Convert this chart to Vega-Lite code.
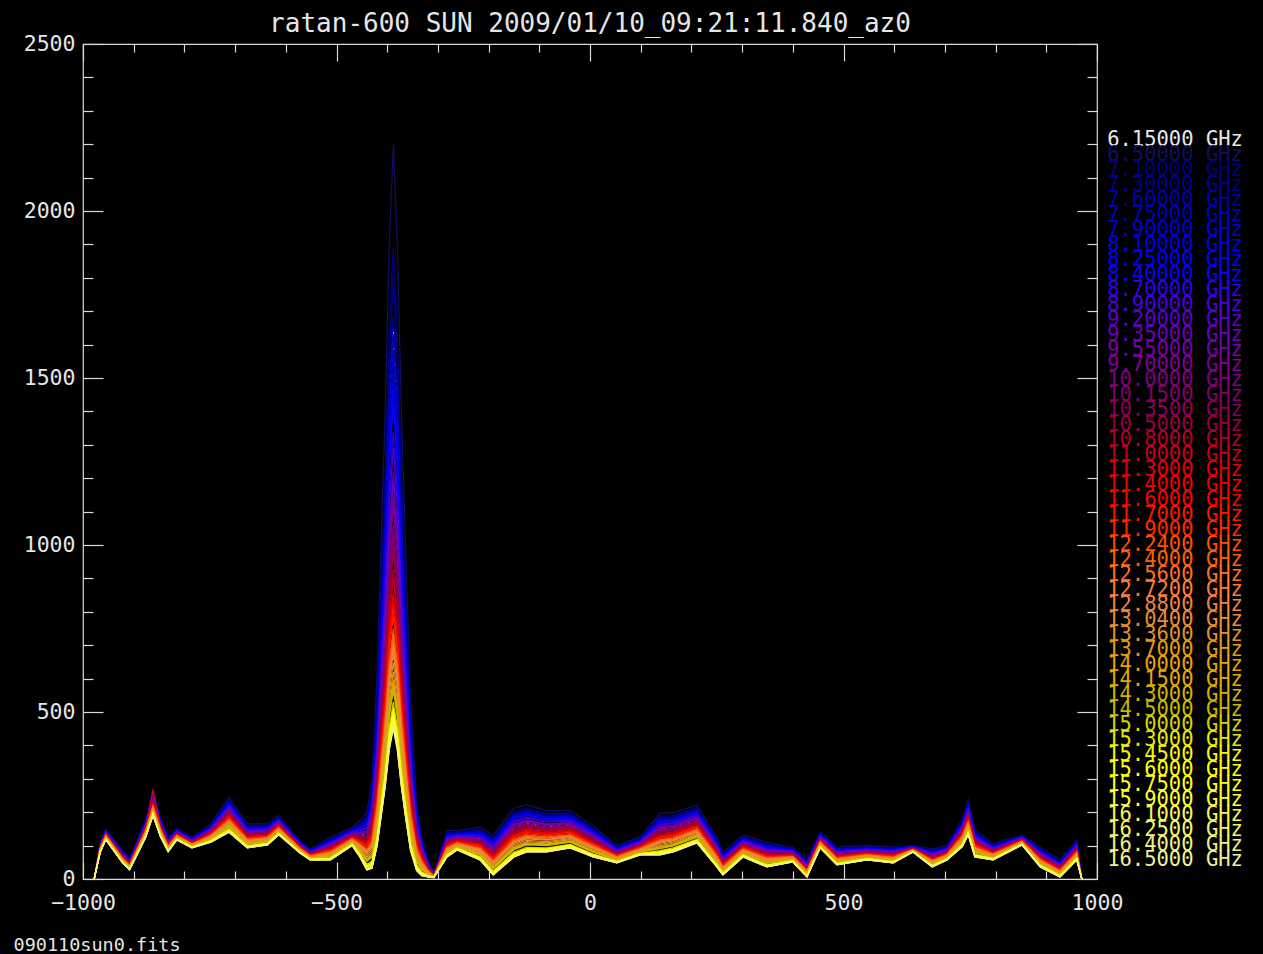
{
  "$schema": "https://vega.github.io/schema/vega-lite/v6.json",
  "width": 1014,
  "height": 835,
  "autosize": {"type": "none"},
  "padding": {"left": 83, "top": 44, "right": 166, "bottom": 75},
  "background": "#000000",
  "title": {
    "text": "ratan-600 SUN 2009/01/10_09:21:11.840_az0",
    "frame": "group",
    "anchor": "middle",
    "baseline": "alphabetic",
    "offset": -25,
    "font": "DejaVu Sans Mono",
    "fontSize": 26,
    "fontWeight": "normal",
    "color": "#e6e6e6"
  },
  "datasets": {
    "bands": [
      {"key": "a", "band": "6.15000 GHz"}, {"key": "b", "band": "6.50000 GHz"}, {"key": "c", "band": "7.10000 GHz"},
      {"key": "d", "band": "7.30000 GHz"}, {"key": "e", "band": "7.60000 GHz"}, {"key": "f", "band": "7.75000 GHz"},
      {"key": "g", "band": "7.90000 GHz"}, {"key": "h", "band": "8.10000 GHz"}, {"key": "i", "band": "8.25000 GHz"},
      {"key": "j", "band": "8.40000 GHz"}, {"key": "k", "band": "8.70000 GHz"}, {"key": "l", "band": "8.90000 GHz"},
      {"key": "m", "band": "9.20000 GHz"}, {"key": "n", "band": "9.35000 GHz"}, {"key": "o", "band": "9.55000 GHz"},
      {"key": "p", "band": "9.70000 GHz"}, {"key": "q", "band": "10.0000 GHz"}, {"key": "r", "band": "10.1500 GHz"},
      {"key": "s", "band": "10.3500 GHz"}, {"key": "t", "band": "10.5000 GHz"}, {"key": "u", "band": "10.8000 GHz"},
      {"key": "v", "band": "11.0000 GHz"}, {"key": "w", "band": "11.3000 GHz"}, {"key": "x", "band": "11.4000 GHz"},
      {"key": "y", "band": "11.6000 GHz"}, {"key": "z", "band": "11.7000 GHz"}, {"key": "A", "band": "11.9000 GHz"},
      {"key": "B", "band": "12.2400 GHz"}, {"key": "C", "band": "12.4000 GHz"}, {"key": "D", "band": "12.5600 GHz"},
      {"key": "E", "band": "12.7200 GHz"}, {"key": "F", "band": "12.8800 GHz"}, {"key": "G", "band": "13.0400 GHz"},
      {"key": "H", "band": "13.3600 GHz"}, {"key": "I", "band": "13.7000 GHz"}, {"key": "J", "band": "14.0000 GHz"},
      {"key": "K", "band": "14.1500 GHz"}, {"key": "L", "band": "14.3000 GHz"}, {"key": "M", "band": "14.5000 GHz"},
      {"key": "N", "band": "15.0000 GHz"}, {"key": "O", "band": "15.3000 GHz"}, {"key": "P", "band": "15.4500 GHz"},
      {"key": "Q", "band": "15.6000 GHz"}, {"key": "R", "band": "15.7500 GHz"}, {"key": "S", "band": "15.9000 GHz"},
      {"key": "T", "band": "16.1000 GHz"}, {"key": "U", "band": "16.2500 GHz"}, {"key": "V", "band": "16.4000 GHz"},
      {"key": "W", "band": "16.5000 GHz"}
    ],
    "scans": [
      {"pos":-978,"a":0,"b":0,"c":0,"d":0,"e":0,"f":0,"g":0,"h":0,"i":0,"j":0,"k":0,"l":0,"m":0,"n":0,"o":0,"p":0,"q":0,"r":0,"s":0,"t":0,"u":0,"v":0,"w":0,"x":0,"y":0,"z":0,"A":0,"B":0,"C":0,"D":0,"E":0,"F":0,"G":0,"H":0,"I":0,"J":0,"K":0,"L":0,"M":0,"N":0,"O":0,"P":0,"Q":0,"R":0,"S":0,"T":0,"U":0,"V":0,"W":0},
      {"pos":-966,"a":98,"b":110,"c":108,"d":107,"e":106,"f":106,"g":105,"h":104,"i":104,"j":103,"k":102,"l":102,"m":100,"n":100,"o":100,"p":99,"q":98,"r":97,"s":97,"t":96,"u":95,"v":95,"w":94,"x":94,"y":93,"z":93,"A":92,"B":91,"C":90,"D":90,"E":89,"F":89,"G":88,"H":88,"I":87,"J":86,"K":85,"L":85,"M":85,"N":83,"O":82,"P":82,"Q":82,"R":82,"S":81,"T":81,"U":80,"V":80,"W":80},
      {"pos":-955,"a":137,"b":150,"c":148,"d":147,"e":146,"f":145,"g":145,"h":144,"i":143,"j":143,"k":142,"l":141,"m":140,"n":139,"o":139,"p":138,"q":137,"r":137,"s":136,"t":135,"u":134,"v":134,"w":133,"x":132,"y":132,"z":131,"A":130,"B":130,"C":129,"D":129,"E":128,"F":128,"G":127,"H":126,"I":125,"J":124,"K":124,"L":123,"M":123,"N":121,"O":121,"P":120,"Q":120,"R":120,"S":119,"T":119,"U":118,"V":118,"W":118},
      {"pos":-922,"a":70,"b":85,"c":82,"d":81,"e":80,"f":79,"g":79,"h":78,"i":77,"j":77,"k":75,"l":75,"m":73,"n":73,"o":72,"p":71,"q":70,"r":69,"s":69,"t":68,"u":67,"v":66,"w":65,"x":65,"y":64,"z":64,"A":62,"B":61,"C":61,"D":60,"E":59,"F":59,"G":58,"H":57,"I":56,"J":55,"K":55,"L":54,"M":54,"N":52,"O":51,"P":51,"Q":50,"R":50,"S":49,"T":49,"U":48,"V":48,"W":48},
      {"pos":-908,"a":48,"b":62,"c":60,"d":59,"e":58,"f":57,"g":56,"h":56,"i":55,"j":55,"k":53,"l":52,"m":51,"n":51,"o":50,"p":49,"q":48,"r":48,"s":47,"t":46,"u":45,"v":45,"w":44,"x":43,"y":43,"z":42,"A":41,"B":40,"C":40,"D":39,"E":39,"F":38,"G":38,"H":37,"I":35,"J":34,"K":34,"L":33,"M":33,"N":31,"O":31,"P":30,"Q":30,"R":30,"S":29,"T":29,"U":28,"V":28,"W":28},
      {"pos":-876,"a":158,"b":180,"c":176,"d":175,"e":173,"f":172,"g":171,"h":170,"i":169,"j":168,"k":166,"l":165,"m":163,"n":162,"o":161,"p":160,"q":158,"r":157,"s":156,"t":155,"u":154,"v":152,"w":151,"x":150,"y":149,"z":149,"A":147,"B":145,"C":144,"D":144,"E":143,"F":142,"G":141,"H":140,"I":138,"J":136,"K":136,"L":135,"M":134,"N":131,"O":130,"P":130,"Q":129,"R":129,"S":128,"T":127,"U":127,"V":126,"W":126},
      {"pos":-862,"a":235,"b":265,"c":260,"d":258,"e":255,"f":254,"g":252,"h":251,"i":249,"j":249,"k":246,"l":244,"m":241,"n":240,"o":239,"p":237,"q":235,"r":234,"s":232,"t":231,"u":228,"v":227,"w":268,"x":224,"y":222,"z":222,"A":219,"B":217,"C":216,"D":215,"E":213,"F":213,"G":211,"H":209,"I":207,"J":204,"K":204,"L":202,"M":201,"N":198,"O":196,"P":195,"Q":195,"R":194,"S":192,"T":192,"U":191,"V":190,"W":190},
      {"pos":-847,"a":161,"b":185,"c":181,"d":179,"e":177,"f":176,"g":175,"h":174,"i":173,"j":172,"k":170,"l":168,"m":166,"n":166,"o":164,"p":163,"q":161,"r":160,"s":159,"t":158,"u":156,"v":155,"w":153,"x":153,"y":151,"z":151,"A":149,"B":147,"C":146,"D":145,"E":144,"F":144,"G":143,"H":141,"I":139,"J":137,"K":137,"L":135,"M":135,"N":132,"O":131,"P":130,"Q":130,"R":129,"S":128,"T":127,"U":127,"V":126,"W":126},
      {"pos":-832,"a":108,"b":125,"c":122,"d":121,"e":119,"f":119,"g":118,"h":117,"i":116,"j":116,"k":114,"l":113,"m":111,"n":111,"o":110,"p":109,"q":108,"r":107,"s":106,"t":105,"u":104,"v":103,"w":102,"x":101,"y":100,"z":100,"A":99,"B":97,"C":97,"D":96,"E":95,"F":95,"G":94,"H":93,"I":91,"J":90,"K":90,"L":89,"M":88,"N":86,"O":85,"P":85,"Q":85,"R":84,"S":83,"T":83,"U":82,"V":82,"W":82},
      {"pos":-815,"a":138,"b":152,"c":150,"d":149,"e":147,"f":147,"g":146,"h":145,"i":145,"j":144,"k":143,"l":142,"m":141,"n":140,"o":140,"p":139,"q":138,"r":137,"s":137,"t":136,"u":135,"v":134,"w":133,"x":133,"y":132,"z":132,"A":131,"B":130,"C":129,"D":129,"E":128,"F":128,"G":127,"H":126,"I":125,"J":124,"K":123,"L":123,"M":122,"N":121,"O":120,"P":119,"Q":119,"R":119,"S":118,"T":118,"U":117,"V":117,"W":117},
      {"pos":-785,"a":112,"b":125,"c":123,"d":122,"e":121,"f":120,"g":120,"h":119,"i":118,"j":118,"k":117,"l":116,"m":115,"n":114,"o":114,"p":113,"q":112,"r":112,"s":111,"t":110,"u":109,"v":109,"w":108,"x":107,"y":107,"z":106,"A":105,"B":105,"C":104,"D":104,"E":103,"F":103,"G":102,"H":101,"I":100,"J":99,"K":99,"L":98,"M":98,"N":96,"O":96,"P":95,"Q":95,"R":95,"S":94,"T":94,"U":93,"V":93,"W":93},
      {"pos":-748,"a":143,"b":165,"c":161,"d":160,"e":158,"f":157,"g":156,"h":155,"i":153,"j":153,"k":151,"l":150,"m":147,"n":147,"o":146,"p":145,"q":143,"r":142,"s":141,"t":140,"u":138,"v":137,"w":135,"x":135,"y":134,"z":133,"A":131,"B":130,"C":129,"D":128,"E":127,"F":127,"G":125,"H":124,"I":122,"J":120,"K":120,"L":119,"M":118,"N":116,"O":114,"P":114,"Q":113,"R":113,"S":112,"T":111,"U":111,"V":110,"W":110},
      {"pos":-712,"a":203,"b":245,"c":238,"d":235,"e":231,"f":229,"g":227,"h":225,"i":223,"j":222,"k":218,"l":216,"m":211,"n":210,"o":208,"p":206,"q":203,"r":201,"s":199,"t":197,"u":194,"v":191,"w":188,"x":187,"y":185,"z":184,"A":181,"B":178,"C":176,"D":175,"E":173,"F":172,"G":169,"H":166,"I":163,"J":160,"K":159,"L":157,"M":156,"N":151,"O":148,"P":147,"Q":146,"R":145,"S":143,"T":142,"U":141,"V":140,"W":140},
      {"pos":-676,"a":136,"b":165,"c":160,"d":158,"e":156,"f":154,"g":153,"h":151,"i":150,"j":149,"k":146,"l":145,"m":142,"n":141,"o":140,"p":138,"q":136,"r":135,"s":133,"t":132,"u":130,"v":128,"w":126,"x":125,"y":124,"z":123,"A":121,"B":119,"C":117,"D":117,"E":115,"F":115,"G":113,"H":111,"I":109,"J":107,"K":106,"L":105,"M":104,"N":100,"O":99,"P":98,"Q":97,"R":97,"S":95,"T":94,"U":94,"V":93,"W":93},
      {"pos":-636,"a":140,"b":165,"c":161,"d":159,"e":157,"f":156,"g":154,"h":153,"i":152,"j":151,"k":149,"l":147,"m":145,"n":144,"o":143,"p":142,"q":140,"r":139,"s":137,"t":136,"u":134,"v":133,"w":131,"x":130,"y":129,"z":128,"A":127,"B":125,"C":123,"D":123,"E":122,"F":121,"G":120,"H":118,"I":116,"J":114,"K":113,"L":112,"M":111,"N":108,"O":107,"P":106,"Q":106,"R":105,"S":104,"T":103,"U":103,"V":102,"W":102},
      {"pos":-614,"a":167,"b":190,"c":186,"d":184,"e":182,"f":181,"g":180,"h":179,"i":178,"j":177,"k":175,"l":174,"m":171,"n":171,"o":170,"p":169,"q":167,"r":166,"s":164,"t":163,"u":162,"v":160,"w":159,"x":158,"y":157,"z":156,"A":155,"B":153,"C":152,"D":151,"E":150,"F":149,"G":148,"H":147,"I":145,"J":143,"K":142,"L":141,"M":141,"N":138,"O":137,"P":136,"Q":135,"R":135,"S":134,"T":133,"U":133,"V":132,"W":132},
      {"pos":-572,"a":100,"b":115,"c":112,"d":111,"e":110,"f":109,"g":109,"h":108,"i":107,"j":107,"k":105,"l":105,"m":103,"n":103,"o":102,"p":101,"q":100,"r":99,"s":99,"t":98,"u":97,"v":96,"w":95,"x":95,"y":94,"z":94,"A":92,"B":91,"C":91,"D":90,"E":89,"F":89,"G":88,"H":87,"I":86,"J":85,"K":85,"L":84,"M":84,"N":82,"O":81,"P":81,"Q":80,"R":80,"S":79,"T":79,"U":78,"V":78,"W":78},
      {"pos":-552,"a":77,"b":90,"c":88,"d":87,"e":86,"f":85,"g":84,"h":84,"i":83,"j":83,"k":81,"l":81,"m":79,"n":79,"o":78,"p":78,"q":77,"r":76,"s":75,"t":75,"u":74,"v":73,"w":72,"x":72,"y":71,"z":71,"A":70,"B":69,"C":68,"D":68,"E":67,"F":67,"G":66,"H":65,"I":64,"J":63,"K":63,"L":62,"M":62,"N":60,"O":60,"P":59,"Q":59,"R":59,"S":58,"T":58,"U":57,"V":57,"W":57},
      {"pos":-512,"a":98,"b":125,"c":120,"d":118,"e":116,"f":115,"g":113,"h":112,"i":111,"j":110,"k":107,"l":106,"m":103,"n":103,"o":101,"p":100,"q":98,"r":96,"s":95,"t":94,"u":92,"v":90,"w":88,"x":88,"y":86,"z":86,"A":84,"B":81,"C":80,"D":79,"E":78,"F":77,"G":76,"H":74,"I":72,"J":70,"K":69,"L":68,"M":67,"N":64,"O":62,"P":62,"Q":61,"R":60,"S":59,"T":58,"U":58,"V":57,"W":57},
      {"pos":-469,"a":133,"b":155,"c":151,"d":150,"e":148,"f":147,"g":146,"h":145,"i":143,"j":143,"k":141,"l":140,"m":137,"n":137,"o":136,"p":135,"q":133,"r":132,"s":131,"t":130,"u":128,"v":127,"w":125,"x":125,"y":124,"z":123,"A":121,"B":120,"C":119,"D":118,"E":117,"F":117,"G":115,"H":114,"I":112,"J":110,"K":110,"L":109,"M":108,"N":106,"O":104,"P":104,"Q":103,"R":103,"S":102,"T":101,"U":101,"V":100,"W":100},
      {"pos":-454,"a":131,"b":175,"c":167,"d":164,"e":161,"f":159,"g":156,"h":154,"i":152,"j":151,"k":147,"l":144,"m":140,"n":139,"o":137,"p":135,"q":131,"r":129,"s":127,"t":125,"u":122,"v":119,"w":116,"x":115,"y":113,"z":112,"A":109,"B":105,"C":103,"D":102,"E":100,"F":99,"G":97,"H":93,"I":90,"J":87,"K":86,"L":83,"M":82,"N":77,"O":75,"P":74,"Q":73,"R":71,"S":69,"T":68,"U":67,"V":66,"W":66},
      {"pos":-440,"a":131,"b":200,"c":188,"d":183,"e":178,"f":174,"g":171,"h":167,"i":164,"j":162,"k":155,"l":152,"m":145,"n":143,"o":139,"p":136,"q":131,"r":127,"s":124,"t":120,"u":115,"v":112,"w":107,"x":105,"y":101,"z":100,"A":94,"B":89,"C":86,"D":84,"E":81,"F":79,"G":75,"H":70,"I":65,"J":60,"K":58,"L":55,"M":53,"N":44,"O":41,"P":39,"Q":37,"R":36,"S":32,"T":30,"U":29,"V":27,"W":27},
      {"pos":-430,"a":196,"b":296,"c":270,"d":261,"e":250,"f":244,"g":238,"h":232,"i":226,"j":222,"k":211,"l":205,"m":195,"n":191,"o":186,"p":181,"q":173,"r":168,"s":163,"t":158,"u":150,"v":144,"w":137,"x":134,"y":130,"z":127,"A":120,"B":113,"C":109,"D":106,"E":102,"F":99,"G":95,"H":88,"I":81,"J":74,"K":72,"L":68,"M":65,"N":54,"O":50,"P":47,"Q":45,"R":43,"S":39,"T":36,"U":34,"V":32,"W":32},
      {"pos":-420,"a":436,"b":614,"c":541,"d":518,"e":490,"f":475,"g":461,"h":445,"i":432,"j":422,"k":399,"l":386,"m":365,"n":356,"o":345,"p":335,"q":319,"r":310,"s":300,"t":292,"u":278,"v":269,"w":256,"x":252,"y":244,"z":240,"A":230,"B":218,"C":211,"D":206,"E":200,"F":196,"G":189,"H":179,"I":169,"J":159,"K":155,"L":150,"M":145,"N":131,"O":124,"P":121,"Q":117,"R":114,"S":109,"T":105,"U":102,"V":99,"W":98},
      {"pos":-412,"a":736,"b":1008,"c":877,"d":838,"e":787,"f":763,"g":739,"h":710,"i":689,"j":670,"k":633,"l":610,"m":576,"n":562,"o":544,"p":529,"q":503,"r":489,"s":473,"t":462,"u":439,"v":426,"w":405,"x":400,"y":388,"z":382,"A":368,"B":350,"C":341,"D":334,"E":325,"F":318,"G":309,"H":296,"I":281,"J":268,"K":262,"L":255,"M":250,"N":230,"O":221,"P":217,"Q":212,"R":208,"S":202,"T":197,"U":192,"V":188,"W":186},
      {"pos":-404,"a":1036,"b":1402,"c":1213,"d":1157,"e":1084,"f":1049,"g":1015,"h":975,"i":945,"j":919,"k":865,"l":835,"m":788,"n":768,"o":741,"p":721,"q":686,"r":667,"s":646,"t":630,"u":601,"v":582,"w":556,"x":548,"y":531,"z":523,"A":506,"B":482,"C":471,"D":460,"E":450,"F":441,"G":430,"H":411,"I":394,"J":377,"K":370,"L":362,"M":353,"N":330,"O":318,"P":313,"Q":307,"R":302,"S":294,"T":288,"U":283,"V":277,"W":275},
      {"pos":-396,"a":1414,"b":1899,"c":1637,"d":1561,"e":1460,"f":1411,"g":1366,"h":1309,"i":1270,"j":1233,"k":1160,"l":1118,"m":1056,"n":1028,"o":992,"p":965,"q":918,"r":894,"s":864,"t":844,"u":804,"v":780,"w":744,"x":734,"y":713,"z":702,"A":681,"B":649,"C":634,"D":621,"E":607,"F":596,"G":582,"H":558,"I":535,"J":515,"K":505,"L":495,"M":484,"N":455,"O":441,"P":433,"Q":425,"R":419,"S":410,"T":401,"U":395,"V":388,"W":385},
      {"pos":-388,"a":1642,"b":2200,"c":1894,"d":1805,"e":1687,"f":1632,"g":1578,"h":1513,"i":1466,"j":1424,"k":1340,"l":1290,"m":1219,"n":1186,"o":1145,"p":1114,"q":1059,"r":1031,"s":997,"t":974,"u":928,"v":900,"w":859,"x":848,"y":823,"z":810,"A":786,"B":750,"C":734,"D":718,"E":703,"F":689,"G":674,"H":647,"I":620,"J":597,"K":587,"L":575,"M":563,"N":530,"O":514,"P":506,"Q":497,"R":490,"S":480,"T":470,"U":463,"V":455,"W":451},
      {"pos":-380,"a":1414,"b":1899,"c":1637,"d":1561,"e":1460,"f":1411,"g":1366,"h":1309,"i":1270,"j":1233,"k":1160,"l":1118,"m":1056,"n":1028,"o":992,"p":965,"q":918,"r":894,"s":864,"t":844,"u":804,"v":780,"w":744,"x":734,"y":713,"z":702,"A":681,"B":649,"C":634,"D":621,"E":607,"F":596,"G":582,"H":558,"I":535,"J":515,"K":505,"L":495,"M":484,"N":455,"O":441,"P":433,"Q":425,"R":419,"S":410,"T":401,"U":395,"V":388,"W":385},
      {"pos":-372,"a":1035,"b":1400,"c":1212,"d":1155,"e":1082,"f":1047,"g":1014,"h":973,"i":944,"j":918,"k":864,"l":833,"m":787,"n":766,"o":740,"p":720,"q":685,"r":666,"s":645,"t":629,"u":600,"v":581,"w":555,"x":547,"y":531,"z":522,"A":505,"B":481,"C":471,"D":460,"E":449,"F":440,"G":430,"H":411,"I":393,"J":377,"K":370,"L":361,"M":353,"N":330,"O":318,"P":312,"Q":307,"R":302,"S":294,"T":288,"U":283,"V":277,"W":275},
      {"pos":-364,"a":733,"b":1003,"c":872,"d":834,"e":783,"f":758,"g":735,"h":706,"i":685,"j":666,"k":629,"l":606,"m":573,"n":559,"o":540,"p":526,"q":500,"r":486,"s":471,"t":459,"u":436,"v":424,"w":403,"x":397,"y":386,"z":380,"A":366,"B":349,"C":339,"D":332,"E":323,"F":317,"G":308,"H":294,"I":280,"J":267,"K":261,"L":255,"M":249,"N":230,"O":221,"P":217,"Q":212,"R":207,"S":202,"T":197,"U":192,"V":188,"W":186},
      {"pos":-354,"a":384,"b":543,"c":480,"d":460,"e":435,"f":423,"g":411,"h":396,"i":385,"j":376,"k":356,"l":344,"m":325,"n":318,"o":308,"p":299,"q":285,"r":277,"s":268,"t":261,"u":248,"v":240,"w":228,"x":225,"y":218,"z":214,"A":205,"B":193,"C":188,"D":184,"E":178,"F":174,"G":168,"H":159,"I":149,"J":140,"K":137,"L":131,"M":129,"N":115,"O":108,"P":105,"Q":102,"R":100,"S":95,"T":92,"U":89,"V":86,"W":85},
      {"pos":-342,"a":153,"b":231,"c":211,"d":203,"e":195,"f":190,"g":186,"h":181,"i":177,"j":173,"k":165,"l":161,"m":152,"n":150,"o":146,"p":142,"q":135,"r":132,"s":127,"t":123,"u":118,"v":113,"w":108,"x":106,"y":102,"z":100,"A":95,"B":89,"C":86,"D":84,"E":80,"F":78,"G":74,"H":70,"I":64,"J":59,"K":56,"L":53,"M":52,"N":43,"O":40,"P":38,"Q":35,"R":34,"S":31,"T":29,"U":28,"V":25,"W":25},
      {"pos":-332,"a":82,"b":130,"c":122,"d":118,"e":114,"f":112,"g":110,"h":107,"i":105,"j":104,"k":99,"l":96,"m":92,"n":90,"o":88,"p":86,"q":82,"r":80,"s":77,"t":75,"u":71,"v":69,"w":65,"x":64,"y":62,"z":60,"A":57,"B":53,"C":51,"D":50,"E":47,"F":46,"G":44,"H":40,"I":36,"J":33,"K":32,"L":29,"M":28,"N":22,"O":20,"P":18,"Q":17,"R":16,"S":14,"T":12,"U":11,"V":10,"W":10},
      {"pos":-320,"a":38,"b":60,"c":56,"d":55,"e":53,"f":52,"g":51,"h":50,"i":49,"j":48,"k":46,"l":45,"m":43,"n":42,"o":41,"p":40,"q":38,"r":37,"s":36,"t":35,"u":34,"v":32,"w":31,"x":30,"y":29,"z":29,"A":27,"B":25,"C":24,"D":24,"E":23,"F":22,"G":21,"H":20,"I":18,"J":16,"K":16,"L":15,"M":14,"N":11,"O":10,"P":10,"Q":9,"R":9,"S":8,"T":7,"U":7,"V":6,"W":6},
      {"pos":-308,"a":10,"b":14,"c":13,"d":13,"e":13,"f":13,"g":12,"h":12,"i":12,"j":12,"k":11,"l":11,"m":11,"n":11,"o":11,"p":10,"q":10,"r":10,"s":10,"t":9,"u":9,"v":9,"w":9,"x":9,"y":8,"z":8,"A":8,"B":8,"C":7,"D":7,"E":7,"F":7,"G":7,"H":7,"I":6,"J":6,"K":6,"L":6,"M":6,"N":5,"O":5,"P":5,"Q":5,"R":5,"S":4,"T":4,"U":4,"V":4,"W":4},
      {"pos":-282,"a":113,"b":145,"c":139,"d":137,"e":135,"f":133,"g":132,"h":130,"i":128,"j":128,"k":124,"l":123,"m":120,"n":119,"o":117,"p":116,"q":113,"r":112,"s":110,"t":109,"u":106,"v":105,"w":102,"x":102,"y":100,"z":99,"A":97,"B":94,"C":93,"D":92,"E":90,"F":90,"G":88,"H":86,"I":83,"J":81,"K":80,"L":79,"M":78,"N":74,"O":72,"P":72,"Q":71,"R":70,"S":68,"T":68,"U":67,"V":66,"W":66},
      {"pos":-262,"a":122,"b":145,"c":141,"d":139,"e":137,"f":136,"g":135,"h":134,"i":133,"j":132,"k":130,"l":129,"m":126,"n":126,"o":125,"p":124,"q":122,"r":121,"s":119,"t":118,"u":117,"v":115,"w":114,"x":113,"y":112,"z":111,"A":110,"B":108,"C":107,"D":106,"E":105,"F":104,"G":103,"H":102,"I":100,"J":98,"K":97,"L":96,"M":96,"N":93,"O":92,"P":91,"Q":90,"R":90,"S":89,"T":88,"U":88,"V":87,"W":87},
      {"pos":-217,"a":116,"b":156,"c":149,"d":146,"e":143,"f":141,"g":139,"h":137,"i":135,"j":134,"k":130,"l":128,"m":124,"n":123,"o":121,"p":119,"q":116,"r":114,"s":112,"t":110,"u":107,"v":106,"w":103,"x":102,"y":100,"z":99,"A":96,"B":93,"C":91,"D":90,"E":88,"F":87,"G":85,"H":82,"I":79,"J":76,"K":75,"L":73,"M":72,"N":67,"O":65,"P":64,"Q":63,"R":62,"S":60,"T":59,"U":58,"V":57,"W":57},
      {"pos":-191,"a":84,"b":132,"c":124,"d":120,"e":116,"f":114,"g":112,"h":109,"i":107,"j":106,"k":101,"l":98,"m":94,"n":92,"o":90,"p":88,"q":84,"r":82,"s":79,"t":77,"u":73,"v":71,"w":67,"x":66,"y":64,"z":62,"A":59,"B":55,"C":53,"D":52,"E":49,"F":48,"G":46,"H":42,"I":38,"J":35,"K":34,"L":31,"M":30,"N":24,"O":22,"P":20,"Q":19,"R":18,"S":16,"T":14,"U":13,"V":12,"W":12},
      {"pos":-150,"a":154,"b":212,"c":202,"d":197,"e":193,"f":190,"g":187,"h":184,"i":181,"j":180,"k":174,"l":171,"m":165,"n":164,"o":161,"p":158,"q":154,"r":151,"s":148,"t":145,"u":140,"v":138,"w":133,"x":132,"y":129,"z":127,"A":123,"B":119,"C":116,"D":114,"E":111,"F":110,"G":107,"H":103,"I":98,"J":94,"K":92,"L":89,"M":88,"N":81,"O":78,"P":76,"Q":75,"R":73,"S":70,"T":69,"U":67,"V":66,"W":66},
      {"pos":-125,"a":166,"b":222,"c":212,"d":208,"e":204,"f":201,"g":198,"h":195,"i":192,"j":191,"k":185,"l":183,"m":177,"n":175,"o":173,"p":170,"q":166,"r":163,"s":160,"t":157,"u":153,"v":150,"w":146,"x":144,"y":142,"z":140,"A":136,"B":132,"C":129,"D":128,"E":125,"F":123,"G":120,"H":116,"I":112,"J":108,"K":106,"L":104,"M":102,"N":95,"O":92,"P":91,"Q":89,"R":88,"S":85,"T":84,"U":82,"V":81,"W":81},
      {"pos":-85,"a":155,"b":205,"c":196,"d":193,"e":189,"f":186,"g":184,"h":181,"i":179,"j":178,"k":173,"l":170,"m":165,"n":164,"o":162,"p":159,"q":155,"r":153,"s":150,"t":148,"u":144,"v":142,"w":138,"x":137,"y":134,"z":133,"A":129,"B":126,"C":123,"D":122,"E":119,"F":118,"G":116,"H":112,"I":108,"J":105,"K":103,"L":101,"M":100,"N":93,"O":91,"P":90,"Q":88,"R":87,"S":85,"T":83,"U":82,"V":81,"W":81},
      {"pos":-39,"a":160,"b":205,"c":197,"d":194,"e":190,"f":188,"g":186,"h":184,"i":181,"j":180,"k":176,"l":174,"m":169,"n":168,"o":166,"p":164,"q":160,"r":158,"s":156,"t":153,"u":150,"v":148,"w":145,"x":143,"y":141,"z":140,"A":137,"B":133,"C":131,"D":130,"E":128,"F":127,"G":124,"H":121,"I":118,"J":114,"K":113,"L":111,"M":110,"N":104,"O":102,"P":101,"Q":100,"R":99,"S":96,"T":95,"U":94,"V":93,"W":93},
      {"pos":6,"a":122,"b":160,"c":153,"d":151,"e":148,"f":146,"g":144,"h":142,"i":140,"j":139,"k":136,"l":134,"m":130,"n":129,"o":127,"p":125,"q":122,"r":121,"s":119,"t":117,"u":114,"v":112,"w":109,"x":108,"y":106,"z":105,"A":103,"B":100,"C":98,"D":97,"E":95,"F":94,"G":92,"H":90,"I":87,"J":84,"K":83,"L":81,"M":80,"N":75,"O":74,"P":73,"Q":72,"R":71,"S":69,"T":68,"U":67,"V":66,"W":66},
      {"pos":53,"a":79,"b":100,"c":96,"d":95,"e":93,"f":92,"g":91,"h":90,"i":89,"j":89,"k":86,"l":85,"m":83,"n":83,"o":82,"p":81,"q":79,"r":78,"s":77,"t":76,"u":75,"v":73,"w":72,"x":71,"y":70,"z":70,"A":68,"B":67,"C":66,"D":65,"E":64,"F":64,"G":63,"H":61,"I":59,"J":58,"K":57,"L":56,"M":56,"N":53,"O":52,"P":52,"Q":51,"R":51,"S":50,"T":49,"U":49,"V":48,"W":48},
      {"pos":99,"a":104,"b":126,"c":122,"d":121,"e":119,"f":118,"g":117,"h":116,"i":115,"j":114,"k":112,"l":111,"m":109,"n":108,"o":107,"p":106,"q":104,"r":103,"s":102,"t":101,"u":100,"v":98,"w":97,"x":96,"y":95,"z":95,"A":93,"B":91,"C":90,"D":90,"E":89,"F":88,"G":87,"H":86,"I":84,"J":82,"K":82,"L":81,"M":80,"N":77,"O":76,"P":76,"Q":75,"R":75,"S":74,"T":73,"U":73,"V":72,"W":72},
      {"pos":138,"a":148,"b":198,"c":189,"d":185,"e":182,"f":179,"g":177,"h":174,"i":172,"j":170,"k":165,"l":163,"m":158,"n":156,"o":154,"p":151,"q":148,"r":145,"s":143,"t":140,"u":136,"v":134,"w":130,"x":129,"y":126,"z":125,"A":121,"B":117,"C":115,"D":114,"E":111,"F":110,"G":107,"H":104,"I":100,"J":96,"K":95,"L":92,"M":91,"N":85,"O":82,"P":81,"Q":80,"R":78,"S":76,"T":75,"U":73,"V":72,"W":72},
      {"pos":164,"a":151,"b":198,"c":190,"d":186,"e":183,"f":180,"g":178,"h":176,"i":173,"j":172,"k":168,"l":165,"m":161,"n":159,"o":157,"p":155,"q":151,"r":149,"s":147,"t":144,"u":141,"v":138,"w":135,"x":134,"y":131,"z":130,"A":127,"B":123,"C":121,"D":120,"E":117,"F":116,"G":114,"H":110,"I":107,"J":103,"K":102,"L":100,"M":99,"N":93,"O":90,"P":89,"Q":88,"R":87,"S":85,"T":83,"U":82,"V":81,"W":81},
      {"pos":211,"a":176,"b":222,"c":214,"d":211,"e":207,"f":205,"g":203,"h":200,"i":198,"j":197,"k":192,"l":190,"m":186,"n":184,"o":182,"p":180,"q":176,"r":174,"s":172,"t":170,"u":166,"v":164,"w":160,"x":159,"y":157,"z":156,"A":152,"B":149,"C":147,"D":146,"E":143,"F":142,"G":140,"H":137,"I":133,"J":130,"K":129,"L":126,"M":125,"N":119,"O":117,"P":116,"Q":115,"R":114,"S":111,"T":110,"U":109,"V":108,"W":108},
      {"pos":250,"a":90,"b":126,"c":120,"d":117,"e":114,"f":113,"g":111,"h":109,"i":107,"j":106,"k":103,"l":101,"m":97,"n":96,"o":95,"p":93,"q":90,"r":88,"s":86,"t":85,"u":82,"v":80,"w":77,"x":77,"y":75,"z":74,"A":71,"B":68,"C":67,"D":66,"E":64,"F":63,"G":61,"H":59,"I":56,"J":53,"K":52,"L":50,"M":50,"N":45,"O":43,"P":42,"Q":41,"R":41,"S":39,"T":38,"U":37,"V":36,"W":36},
      {"pos":262,"a":53,"b":80,"c":75,"d":73,"e":71,"f":70,"g":68,"h":67,"i":66,"j":65,"k":62,"l":61,"m":58,"n":58,"o":56,"p":55,"q":53,"r":51,"s":50,"t":49,"u":47,"v":45,"w":43,"x":43,"y":41,"z":41,"A":39,"B":36,"C":35,"D":34,"E":33,"F":32,"G":31,"H":29,"I":27,"J":25,"K":24,"L":23,"M":22,"N":19,"O":17,"P":17,"Q":16,"R":15,"S":14,"T":13,"U":13,"V":12,"W":12},
      {"pos":302,"a":106,"b":132,"c":127,"d":125,"e":123,"f":122,"g":121,"h":119,"i":118,"j":117,"k":115,"l":114,"m":111,"n":110,"o":109,"p":108,"q":106,"r":104,"s":103,"t":102,"u":100,"v":98,"w":96,"x":96,"y":94,"z":94,"A":92,"B":90,"C":88,"D":88,"E":86,"F":86,"G":84,"H":83,"I":81,"J":79,"K":78,"L":77,"M":76,"N":73,"O":71,"P":71,"Q":70,"R":69,"S":68,"T":67,"U":67,"V":66,"W":66},
      {"pos":349,"a":80,"b":110,"c":105,"d":103,"e":100,"f":99,"g":97,"h":96,"i":94,"j":94,"k":91,"l":89,"m":86,"n":86,"o":84,"p":83,"q":80,"r":79,"s":77,"t":76,"u":74,"v":72,"w":70,"x":69,"y":68,"z":67,"A":65,"B":63,"C":61,"D":60,"E":59,"F":58,"G":57,"H":55,"I":52,"J":50,"K":49,"L":48,"M":47,"N":43,"O":42,"P":41,"Q":40,"R":40,"S":38,"T":37,"U":37,"V":36,"W":36},
      {"pos":400,"a":77,"b":95,"c":92,"d":91,"e":89,"f":88,"g":88,"h":87,"i":86,"j":85,"k":84,"l":83,"m":81,"n":80,"o":80,"p":79,"q":77,"r":77,"s":76,"t":75,"u":73,"v":73,"w":71,"x":71,"y":70,"z":69,"A":68,"B":67,"C":66,"D":66,"E":65,"F":64,"G":63,"H":62,"I":61,"J":59,"K":59,"L":58,"M":58,"N":55,"O":55,"P":54,"Q":54,"R":53,"S":52,"T":52,"U":51,"V":51,"W":51},
      {"pos":428,"a":37,"b":57,"c":53,"d":52,"e":50,"f":49,"g":48,"h":47,"i":46,"j":46,"k":44,"l":43,"m":41,"n":40,"o":39,"p":38,"q":37,"r":36,"s":35,"t":34,"u":32,"v":31,"w":29,"x":29,"y":28,"z":27,"A":26,"B":24,"C":23,"D":23,"E":22,"F":21,"G":20,"H":19,"I":17,"J":16,"K":15,"L":14,"M":14,"N":11,"O":10,"P":10,"Q":9,"R":9,"S":8,"T":7,"U":7,"V":6,"W":6},
      {"pos":454,"a":122,"b":141,"c":138,"d":136,"e":135,"f":134,"g":133,"h":132,"i":131,"j":130,"k":129,"l":128,"m":126,"n":125,"o":124,"p":123,"q":122,"r":121,"s":120,"t":119,"u":117,"v":117,"w":115,"x":115,"y":114,"z":113,"A":112,"B":110,"C":109,"D":109,"E":108,"F":107,"G":106,"H":105,"I":104,"J":102,"K":102,"L":101,"M":100,"N":98,"O":97,"P":96,"Q":96,"R":95,"S":94,"T":94,"U":93,"V":93,"W":93},
      {"pos":487,"a":74,"b":96,"c":92,"d":91,"e":89,"f":88,"g":87,"h":86,"i":85,"j":84,"k":82,"l":81,"m":79,"n":78,"o":77,"p":76,"q":74,"r":73,"s":72,"t":71,"u":70,"v":68,"w":67,"x":66,"y":65,"z":65,"A":63,"B":61,"C":60,"D":60,"E":59,"F":58,"G":57,"H":56,"I":54,"J":52,"K":52,"L":51,"M":50,"N":47,"O":46,"P":46,"Q":45,"R":45,"S":44,"T":43,"U":43,"V":42,"W":42},
      {"pos":546,"a":83,"b":100,"c":97,"d":96,"e":94,"f":94,"g":93,"h":92,"i":91,"j":91,"k":89,"l":88,"m":86,"n":86,"o":85,"p":84,"q":83,"r":82,"s":81,"t":80,"u":79,"v":78,"w":77,"x":76,"y":75,"z":75,"A":74,"B":72,"C":72,"D":71,"E":70,"F":70,"G":69,"H":68,"I":66,"J":65,"K":65,"L":64,"M":63,"N":61,"O":60,"P":60,"Q":60,"R":59,"S":58,"T":58,"U":57,"V":57,"W":57},
      {"pos":598,"a":77,"b":96,"c":93,"d":91,"e":90,"f":89,"g":88,"h":87,"i":86,"j":85,"k":84,"l":83,"m":81,"n":80,"o":79,"p":78,"q":77,"r":76,"s":75,"t":74,"u":72,"v":72,"w":70,"x":70,"y":69,"z":68,"A":67,"B":65,"C":64,"D":64,"E":63,"F":62,"G":61,"H":60,"I":59,"J":57,"K":57,"L":56,"M":55,"N":53,"O":52,"P":51,"Q":51,"R":50,"S":49,"T":49,"U":48,"V":48,"W":48},
      {"pos":637,"a":92,"b":100,"c":99,"d":98,"e":98,"f":97,"g":97,"h":96,"i":96,"j":96,"k":95,"l":95,"m":94,"n":94,"o":93,"p":93,"q":92,"r":92,"s":92,"t":91,"u":91,"v":90,"w":90,"x":90,"y":89,"z":89,"A":88,"B":88,"C":87,"D":87,"E":87,"F":87,"G":86,"H":86,"I":85,"J":85,"K":84,"L":84,"M":84,"N":83,"O":83,"P":82,"Q":82,"R":82,"S":82,"T":81,"U":81,"V":81,"W":81},
      {"pos":675,"a":68,"b":90,"c":86,"d":85,"e":83,"f":82,"g":81,"h":80,"i":79,"j":78,"k":76,"l":75,"m":73,"n":72,"o":71,"p":70,"q":68,"r":67,"s":66,"t":65,"u":64,"v":62,"w":61,"x":60,"y":59,"z":59,"A":57,"B":55,"C":54,"D":54,"E":53,"F":52,"G":51,"H":50,"I":48,"J":46,"K":46,"L":45,"M":44,"N":41,"O":40,"P":40,"Q":39,"R":39,"S":38,"T":37,"U":37,"V":36,"W":36},
      {"pos":704,"a":83,"b":100,"c":97,"d":96,"e":94,"f":94,"g":93,"h":92,"i":91,"j":91,"k":89,"l":88,"m":86,"n":86,"o":85,"p":84,"q":83,"r":82,"s":81,"t":80,"u":79,"v":78,"w":77,"x":76,"y":75,"z":75,"A":74,"B":72,"C":72,"D":71,"E":70,"F":70,"G":69,"H":68,"I":66,"J":65,"K":65,"L":64,"M":63,"N":61,"O":60,"P":60,"Q":60,"R":59,"S":58,"T":58,"U":57,"V":57,"W":57},
      {"pos":734,"a":146,"b":180,"c":174,"d":172,"e":169,"f":167,"g":166,"h":164,"i":162,"j":162,"k":158,"l":156,"m":153,"n":152,"o":151,"p":149,"q":146,"r":145,"s":143,"t":141,"u":139,"v":137,"w":135,"x":134,"y":132,"z":131,"A":129,"B":126,"C":125,"D":124,"E":122,"F":121,"G":120,"H":117,"I":114,"J":112,"K":111,"L":109,"M":109,"N":104,"O":103,"P":102,"Q":101,"R":100,"S":99,"T":98,"U":97,"V":96,"W":96},
      {"pos":746,"a":195,"b":237,"c":230,"d":227,"e":223,"f":221,"g":219,"h":217,"i":215,"j":214,"k":210,"l":208,"m":203,"n":202,"o":200,"p":198,"q":195,"r":193,"s":191,"t":189,"u":186,"v":183,"w":180,"x":179,"y":177,"z":176,"A":173,"B":170,"C":168,"D":167,"E":165,"F":164,"G":161,"H":158,"I":155,"J":152,"K":151,"L":149,"M":148,"N":143,"O":140,"P":139,"Q":138,"R":137,"S":135,"T":134,"U":133,"V":132,"W":132},
      {"pos":759,"a":116,"b":150,"c":144,"d":142,"e":139,"f":137,"g":136,"h":134,"i":132,"j":132,"k":128,"l":126,"m":123,"n":122,"o":121,"p":119,"q":116,"r":115,"s":113,"t":111,"u":109,"v":107,"w":105,"x":104,"y":102,"z":101,"A":99,"B":96,"C":95,"D":94,"E":92,"F":91,"G":90,"H":87,"I":84,"J":82,"K":81,"L":79,"M":79,"N":74,"O":73,"P":72,"Q":71,"R":70,"S":69,"T":68,"U":67,"V":66,"W":66},
      {"pos":795,"a":86,"b":105,"c":102,"d":100,"e":99,"f":98,"g":97,"h":96,"i":95,"j":94,"k":93,"l":92,"m":90,"n":89,"o":88,"p":87,"q":86,"r":85,"s":84,"t":83,"u":81,"v":81,"w":79,"x":79,"y":78,"z":77,"A":76,"B":74,"C":73,"D":73,"E":72,"F":71,"G":70,"H":69,"I":68,"J":66,"K":66,"L":65,"M":64,"N":62,"O":61,"P":60,"Q":60,"R":59,"S":58,"T":58,"U":57,"V":57,"W":57},
      {"pos":852,"a":120,"b":132,"c":130,"d":129,"e":128,"f":128,"g":127,"h":126,"i":126,"j":125,"k":124,"l":124,"m":122,"n":122,"o":122,"p":121,"q":120,"r":119,"s":119,"t":118,"u":117,"v":117,"w":116,"x":116,"y":115,"z":115,"A":114,"B":113,"C":112,"D":112,"E":111,"F":111,"G":110,"H":110,"I":109,"J":108,"K":107,"L":107,"M":107,"N":105,"O":104,"P":104,"Q":104,"R":104,"S":103,"T":103,"U":102,"V":102,"W":102},
      {"pos":888,"a":71,"b":95,"c":91,"d":89,"e":87,"f":86,"g":85,"h":84,"i":83,"j":82,"k":80,"l":78,"m":76,"n":76,"o":74,"p":73,"q":71,"r":70,"s":69,"t":68,"u":66,"v":65,"w":63,"x":63,"y":61,"z":61,"A":59,"B":57,"C":56,"D":55,"E":54,"F":54,"G":53,"H":51,"I":49,"J":47,"K":47,"L":45,"M":45,"N":42,"O":41,"P":40,"Q":40,"R":39,"S":38,"T":37,"U":37,"V":36,"W":36},
      {"pos":927,"a":37,"b":57,"c":53,"d":52,"e":50,"f":49,"g":48,"h":47,"i":46,"j":46,"k":44,"l":43,"m":41,"n":40,"o":39,"p":38,"q":37,"r":36,"s":35,"t":34,"u":32,"v":31,"w":29,"x":29,"y":28,"z":27,"A":26,"B":24,"C":23,"D":23,"E":22,"F":21,"G":20,"H":19,"I":17,"J":16,"K":15,"L":14,"M":14,"N":11,"O":10,"P":10,"Q":9,"R":9,"S":8,"T":7,"U":7,"V":6,"W":6},
      {"pos":960,"a":93,"b":117,"c":113,"d":111,"e":109,"f":108,"g":107,"h":106,"i":104,"j":104,"k":101,"l":100,"m":98,"n":97,"o":96,"p":95,"q":93,"r":92,"s":91,"t":89,"u":88,"v":86,"w":85,"x":84,"y":83,"z":82,"A":80,"B":79,"C":77,"D":77,"E":76,"F":75,"G":74,"H":72,"I":70,"J":68,"K":68,"L":67,"M":66,"N":63,"O":62,"P":61,"Q":61,"R":60,"S":59,"T":58,"U":58,"V":57,"W":57},
      {"pos":970,"a":0,"b":0,"c":0,"d":0,"e":0,"f":0,"g":0,"h":0,"i":0,"j":0,"k":0,"l":0,"m":0,"n":0,"o":0,"p":0,"q":0,"r":0,"s":0,"t":0,"u":0,"v":0,"w":0,"x":0,"y":0,"z":0,"A":0,"B":0,"C":0,"D":0,"E":0,"F":0,"G":0,"H":0,"I":0,"J":0,"K":0,"L":0,"M":0,"N":0,"O":0,"P":0,"Q":0,"R":0,"S":0,"T":0,"U":0,"V":0,"W":0}
    ]
  },
  "data": {"name": "scans"},
  "transform": [
    {"fold": ["a","b","c","d","e","f","g","h","i","j","k","l","m","n","o","p","q","r","s","t","u","v","w","x","y","z","A","B","C","D","E","F","G","H","I","J","K","L","M","N","O","P","Q","R","S","T","U","V","W"], "as": ["key", "flux"]},
    {"lookup": "key", "from": {"data": {"name": "bands"}, "key": "key", "fields": ["band"]}}
  ],
  "encoding": {
    "color": {
      "field": "band",
      "type": "nominal",
      "scale": {
        "domain": ["6.15000 GHz","6.50000 GHz","7.10000 GHz","7.30000 GHz","7.60000 GHz","7.75000 GHz","7.90000 GHz","8.10000 GHz","8.25000 GHz","8.40000 GHz","8.70000 GHz","8.90000 GHz","9.20000 GHz","9.35000 GHz","9.55000 GHz","9.70000 GHz","10.0000 GHz","10.1500 GHz","10.3500 GHz","10.5000 GHz","10.8000 GHz","11.0000 GHz","11.3000 GHz","11.4000 GHz","11.6000 GHz","11.7000 GHz","11.9000 GHz","12.2400 GHz","12.4000 GHz","12.5600 GHz","12.7200 GHz","12.8800 GHz","13.0400 GHz","13.3600 GHz","13.7000 GHz","14.0000 GHz","14.1500 GHz","14.3000 GHz","14.5000 GHz","15.0000 GHz","15.3000 GHz","15.4500 GHz","15.6000 GHz","15.7500 GHz","15.9000 GHz","16.1000 GHz","16.2500 GHz","16.4000 GHz","16.5000 GHz"],
        "range": ["#e8e8e8","#101060","#00007a","#000090","#0000a8","#0000bc","#0000d0","#0000e4","#0000f8","#0a00ff","#3000f0","#4a00e0","#5e00cc","#6c00bc","#7800a8","#800094","#800080","#84006a","#8c0054","#980040","#b0002c","#c8001c","#e0000c","#f00000","#ff0000","#ff1400","#ff2800","#ff5000","#ff6000","#ff7020","#ff7c38","#f08440","#e88c38","#e09428","#e09c18","#e8a400","#e0aa00","#d4b000","#c8b800","#d4d400","#e8e800","#f8f800","#ffff00","#ffff18","#ffff30","#f8f850","#f4f468","#f0f080","#f0f098"]
      },
      "legend": null
    }
  },
  "layer": [
    {
      "transform": [{"filter": "datum.key === 'a'"}],
      "mark": {"type": "line", "strokeWidth": 1.6, "strokeDash": [2, 6]},
      "encoding": {
        "x": {"field": "pos", "type": "quantitative", "scale": {"domain": [-1000, 1000], "nice": false, "zero": false}, "axis": null},
        "y": {"field": "flux", "type": "quantitative", "scale": {"domain": [0, 2500], "nice": false}, "axis": null}
      }
    },
    {
      "transform": [{"filter": "datum.key !== 'a'"}],
      "mark": {"type": "line", "strokeWidth": 1.2},
      "encoding": {
        "x": {
          "field": "pos", "type": "quantitative",
          "scale": {"domain": [-1000, 1000], "nice": false, "zero": false},
          "axis": {
            "orient": "bottom",
            "values": [-1000,-900,-800,-700,-600,-500,-400,-300,-200,-100,0,100,200,300,400,500,600,700,800,900,1000],
            "format": "d",
            "labelExpr": "datum.value % 500 === 0 ? datum.label : ''",
            "tickSize": {"condition": {"test": "datum.value % 500 === 0", "value": -17}, "value": -8},
            "labelPadding": 30,
            "labelFlush": false,
            "labelOverlap": false,
            "labelBound": false,
            "title": "090110sun0.fits",
            "titleX": -70,
            "titleY": 71,
            "titleAlign": "left",
            "titleAnchor": "start",
            "titleBaseline": "alphabetic",
            "titleFont": "DejaVu Sans Mono",
            "titleFontSize": 18.5,
            "titleFontWeight": "normal",
            "titleColor": "#e6e6e6"
          }
        },
        "y": {
          "field": "flux", "type": "quantitative",
          "scale": {"domain": [0, 2500], "nice": false},
          "axis": {
            "orient": "left",
            "values": [0,100,200,300,400,500,600,700,800,900,1000,1100,1200,1300,1400,1500,1600,1700,1800,1900,2000,2100,2200,2300,2400,2500],
            "format": "d",
            "labelExpr": "datum.value % 500 === 0 ? datum.label : ''",
            "tickSize": {"condition": {"test": "datum.value % 500 === 0", "value": -20}, "value": -10},
            "labelPadding": 28,
            "labelFlush": false,
            "labelOverlap": false,
            "title": null
          }
        }
      }
    },
    {
      "transform": [{"filter": "datum.key === 'a'"}],
      "mark": {"type": "line", "opacity": 0},
      "encoding": {
        "x": {
          "field": "pos", "type": "quantitative",
          "scale": {"domain": [-1000, 1000], "nice": false, "zero": false},
          "axis": {
            "orient": "top",
            "values": [-1000,-900,-800,-700,-600,-500,-400,-300,-200,-100,0,100,200,300,400,500,600,700,800,900,1000],
            "labels": false,
            "tickSize": {"condition": {"test": "datum.value % 500 === 0", "value": -17}, "value": -8},
            "title": null
          }
        },
        "y": {
          "field": "flux", "type": "quantitative",
          "scale": {"domain": [0, 2500], "nice": false},
          "axis": {
            "orient": "right",
            "values": [0,100,200,300,400,500,600,700,800,900,1000,1100,1200,1300,1400,1500,1600,1700,1800,1900,2000,2100,2200,2300,2400,2500],
            "labels": false,
            "tickSize": {"condition": {"test": "datum.value % 500 === 0", "value": -20}, "value": -10},
            "title": null
          }
        }
      }
    },
    {
      "data": {"name": "bands"},
      "mark": {"type": "text", "align": "left", "baseline": "middle", "font": "DejaVu Sans Mono", "fontSize": 20.5, "clip": false},
      "encoding": {
        "x": {"datum": 1020, "type": "quantitative", "scale": {"domain": [-1000, 1000], "nice": false, "zero": false}, "axis": null},
        "y": {
          "field": "band", "type": "ordinal",
          "scale": {
            "type": "point",
            "padding": 0,
            "range": [96, 816],
            "domain": ["6.15000 GHz","6.50000 GHz","7.10000 GHz","7.30000 GHz","7.60000 GHz","7.75000 GHz","7.90000 GHz","8.10000 GHz","8.25000 GHz","8.40000 GHz","8.70000 GHz","8.90000 GHz","9.20000 GHz","9.35000 GHz","9.55000 GHz","9.70000 GHz","10.0000 GHz","10.1500 GHz","10.3500 GHz","10.5000 GHz","10.8000 GHz","11.0000 GHz","11.3000 GHz","11.4000 GHz","11.6000 GHz","11.7000 GHz","11.9000 GHz","12.2400 GHz","12.4000 GHz","12.5600 GHz","12.7200 GHz","12.8800 GHz","13.0400 GHz","13.3600 GHz","13.7000 GHz","14.0000 GHz","14.1500 GHz","14.3000 GHz","14.5000 GHz","15.0000 GHz","15.3000 GHz","15.4500 GHz","15.6000 GHz","15.7500 GHz","15.9000 GHz","16.1000 GHz","16.2500 GHz","16.4000 GHz","16.5000 GHz"]
          },
          "axis": null
        },
        "text": {"field": "band", "type": "nominal"}
      }
    }
  ],
  "resolve": {"scale": {"y": "independent"}, "axis": {"x": "independent", "y": "independent"}},
  "config": {
    "view": {"stroke": "#d9d9d9", "strokeWidth": 1.2},
    "axis": {
      "grid": false,
      "domain": false,
      "tickColor": "#d9d9d9",
      "tickWidth": 1.2,
      "labelColor": "#e6e6e6",
      "labelFont": "DejaVu Sans Mono",
      "labelFontSize": 21.5,
      "labelFontWeight": "normal"
    }
  }
}
